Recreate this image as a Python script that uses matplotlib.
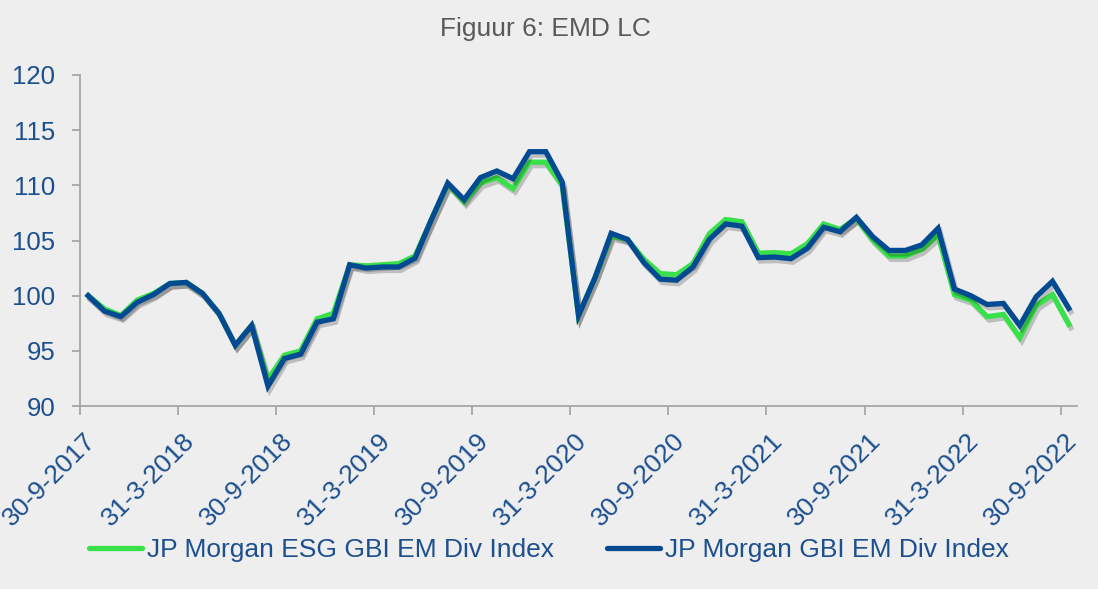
import numpy as np
import matplotlib
matplotlib.use("Agg")
import matplotlib.pyplot as plt
import matplotlib.patheffects as pe
import matplotlib.transforms as mtransforms

plt.rcParams['font.family'] = ['Liberation Sans', 'DejaVu Sans']

# tick labels (every 6 months, month ends)
tick_labels = ["30-9-2017", "31-3-2018", "30-9-2018", "31-3-2019", "30-9-2019",
               "31-3-2020", "30-9-2020", "31-3-2021", "30-9-2021", "31-3-2022",
               "30-9-2022"]

# monthly index values, 30-9-2017 .. 30-9-2022 (61 points)
esg = [100.0, 98.8, 98.2, 99.6, 100.2, 101.1, 101.2, 100.2, 98.4, 95.5,
       97.3, 92.4, 94.6, 95.0, 97.9, 98.4, 102.8, 102.7, 102.8, 102.9,
       103.6, 106.9, 110.1, 108.5, 110.2, 110.7, 109.7, 112.1, 112.1, 110.0,
       98.2, 101.6, 105.4, 105.1, 103.3, 102.0, 101.9, 102.9, 105.6, 106.9,
       106.7, 103.85, 103.9, 103.8, 104.7, 106.5, 106.0, 107.0, 105.05, 103.6,
       103.6, 104.2, 105.5, 100.1, 99.6, 98.1, 98.3, 96.2, 99.1, 100.1,
       97.4]
gbi = [100.0, 98.6, 98.1, 99.4, 100.1, 101.1, 101.2, 100.2, 98.4, 95.5,
       97.3, 91.8, 94.3, 94.7, 97.6, 97.9, 102.8, 102.5, 102.6, 102.6,
       103.4, 106.9, 110.2, 108.7, 110.7, 111.3, 110.6, 113.05, 113.05, 110.3,
       98.2, 101.6, 105.65, 105.1, 103.0, 101.5, 101.4, 102.6, 105.1, 106.5,
       106.3, 103.45, 103.5, 103.35, 104.3, 106.2, 105.8, 107.1, 105.35, 104.1,
       104.1, 104.6, 106.1, 100.6, 100.0, 99.2, 99.3, 97.3, 99.9, 101.3,
       98.85]

bg = '#eeeeee'
txt_blue = '#1c4f8e'
green = '#38e04a'
navy = '#024a91'
axis_grey = '#a6a6a6'

fig = plt.figure(figsize=(10.98, 5.89), dpi=100, facecolor=bg)
ax = fig.add_axes([80 / 1098, 1 - 406 / 589, 997 / 1098, 331 / 589])
ax.set_facecolor(bg)

x = np.arange(len(gbi))
shadow = [pe.SimpleLineShadow(offset=(1.5, -2.5), shadow_color='black', alpha=0.2),
          pe.Normal()]
ax.plot(x, esg, color=green, lw=3.8, solid_joinstyle='miter',
        label="JP Morgan ESG GBI EM Div Index", path_effects=shadow)
ax.plot(x, gbi, color=navy, lw=3.8, solid_joinstyle='miter',
        label="JP Morgan GBI EM Div Index", path_effects=shadow)

ax.set_xlim(-0.5, len(gbi) - 0.5)
ax.set_ylim(90, 120)
ax.set_yticks(np.arange(90, 121, 5))
ax.set_xticks(np.arange(-0.5, len(gbi) - 1, 6))
ax.set_xticklabels(tick_labels, rotation=45, ha='right', va='top',
                   rotation_mode='anchor')

for s in ['top', 'right']:
    ax.spines[s].set_visible(False)
for s in ['left', 'bottom']:
    ax.spines[s].set_color(axis_grey)
    ax.spines[s].set_linewidth(1.3)

ax.tick_params(axis='y', colors=axis_grey, labelcolor=txt_blue, labelsize=18.5,
               length=6, width=1.3, pad=12)
ax.tick_params(axis='x', colors=axis_grey, labelcolor=txt_blue, labelsize=19,
               length=6.5, width=1.3, pad=4)

# nudge the rotated date labels a bit right/down like the original
shift = mtransforms.ScaledTranslation(4 / 100, -8 / 100, fig.dpi_scale_trans)
for lbl in ax.get_xticklabels():
    lbl.set_transform(lbl.get_transform() + shift)

fig.text(0.497, 0.950, "Figuur 6: EMD LC", ha='center', va='center',
         fontsize=19, color='#595959')

leg = fig.legend(loc='center', bbox_to_anchor=(0.5, 0.066), ncol=2,
                 frameon=False, fontsize=19, handlelength=2.0,
                 handletextpad=0.2, columnspacing=2.0)
for t in leg.get_texts():
    t.set_color(txt_blue)
for h in leg.legend_handles:
    h.set_path_effects([])
    h.set_solid_capstyle('round')

fig.savefig("out.png", dpi=100, facecolor=bg)
